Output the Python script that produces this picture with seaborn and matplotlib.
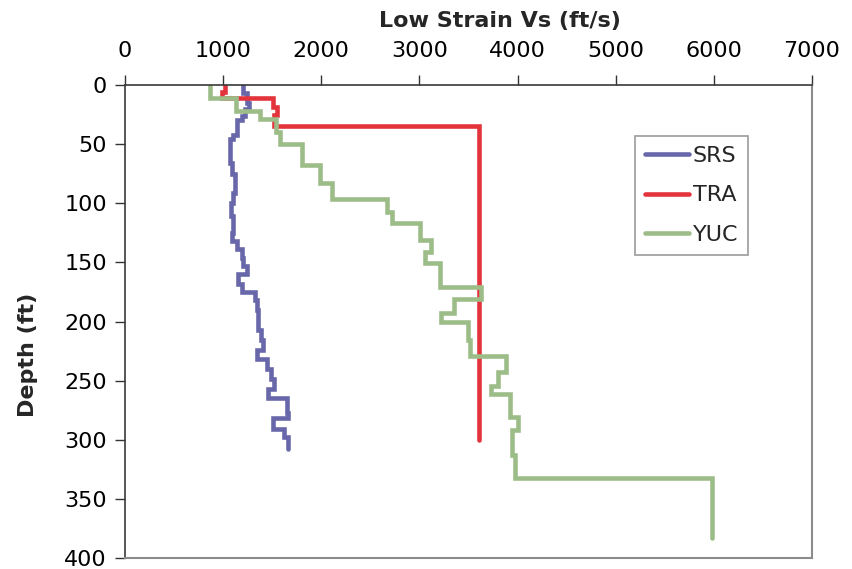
import numpy as np
import pandas as pd
import matplotlib
matplotlib.use("Agg")
import matplotlib.pyplot as plt
import seaborn as sns

# Layered shear-wave velocity profiles: layer top depths (ft), layer velocities (ft/s)
srs_top = [0, 7, 15, 20, 26, 30, 42, 46, 66, 75, 91, 100, 111, 125, 132, 139, 146,
           153, 160, 168, 175, 182, 190, 207, 216, 224, 232, 240, 249, 257, 265,
           277, 282, 291, 298]
srs_vs = [1200, 1240, 1265, 1225, 1190, 1140, 1105, 1070, 1095, 1125, 1105, 1080,
          1105, 1095, 1140, 1190, 1205, 1240, 1155, 1190, 1325, 1345, 1360, 1385,
          1410, 1340, 1445, 1485, 1520, 1460, 1650, 1665, 1510, 1615, 1665]
srs_bottom = 308

tra_top = [0, 6, 11, 19, 25, 35]
tra_vs = [1015, 990, 1510, 1550, 1515, 3610]
tra_bottom = 300

yuc_top = [0, 10.7, 22, 28.8, 40, 50, 68, 83, 96, 107, 117, 131, 141, 150.6, 170.6,
           181, 193, 200, 215.6, 229, 242.4, 254.5, 261.3, 280.5, 291.7, 313, 332.6]
yuc_vs = [870, 1130, 1376, 1539, 1580, 1801, 1988, 2107, 2668, 2718, 3007, 3116,
          3058, 3211, 3626, 3354, 3218, 3500, 3517, 3884, 3799, 3731, 3925, 4000,
          3945, 3969, 5980]
yuc_bottom = 383

sites = ["SRS", "TRA", "YUC"]
colors = {"SRS": "#6767A9", "TRA": "#E3343C", "YUC": "#9DBD88"}


def step_profile(name, tops, vs, bottom):
    edges = list(tops) + [bottom]
    rows = []
    for i, v in enumerate(vs):
        rows.append((name, v, edges[i]))
        rows.append((name, v, edges[i + 1]))
    return rows


rows = (step_profile("SRS", srs_top, srs_vs, srs_bottom)
        + step_profile("TRA", tra_top, tra_vs, tra_bottom)
        + step_profile("YUC", yuc_top, yuc_vs, yuc_bottom))
df = pd.DataFrame(rows, columns=["site", "vs", "depth"])

sns.set_style("white")
plt.rcParams["font.family"] = ["DejaVu Sans"]

fig = plt.figure(figsize=(8.53, 5.69), dpi=100)
ax = fig.add_axes([125 / 853, 1 - 558 / 569, (812 - 125) / 853, (558 - 85) / 569])

sns.lineplot(data=df, x="vs", y="depth", hue="site", hue_order=sites,
             palette=colors, sort=False, estimator=None, linewidth=3.3,
             ax=ax, legend=True)
for ln in ax.get_lines():
    ln.set_solid_joinstyle("miter")
    ln.set_solid_capstyle("round")

ax.set_xlim(0, 7000)
ax.set_ylim(400, 0)
ax.set_xticks(np.arange(0, 7001, 1000))
ax.set_yticks(np.arange(0, 401, 50))
ax.xaxis.tick_top()
ax.xaxis.set_label_position("top")
ax.tick_params(axis="both", which="major", direction="out", length=7, width=1,
               labelsize=16, colors="#333333", labelcolor="#000000")
ax.tick_params(axis="x", top=True, bottom=False, pad=10)
ax.tick_params(axis="y", left=True, pad=6)

ax.set_xlabel("Low Strain Vs (ft/s)", fontsize=16, fontweight="bold")
ax.xaxis.set_label_coords(0.546, 1.122)
ax.set_ylabel("Depth (ft)", fontsize=16, fontweight="bold")
ax.yaxis.set_label_coords(-0.126, 0.43)

for side in ["top", "left"]:
    ax.spines[side].set_color("#3a3a3a")
    ax.spines[side].set_linewidth(1.2)
for side in ["right", "bottom"]:
    ax.spines[side].set_color("#8c8c8c")
    ax.spines[side].set_linewidth(1.5)

leg = ax.legend(title=None, loc="upper left", bbox_to_anchor=(635 / 853, 1 - 136 / 569),
                bbox_transform=fig.transFigure, fontsize=16, frameon=True,
                fancybox=False, edgecolor="#8c8c8c", handlelength=2.0,
                handletextpad=0.15, labelspacing=0.87, borderpad=0.45,
                borderaxespad=0)
leg.get_frame().set_linewidth(1.3)
for h in leg.get_lines():
    h.set_linewidth(3.3)

fig.savefig("out.png", dpi=100)
